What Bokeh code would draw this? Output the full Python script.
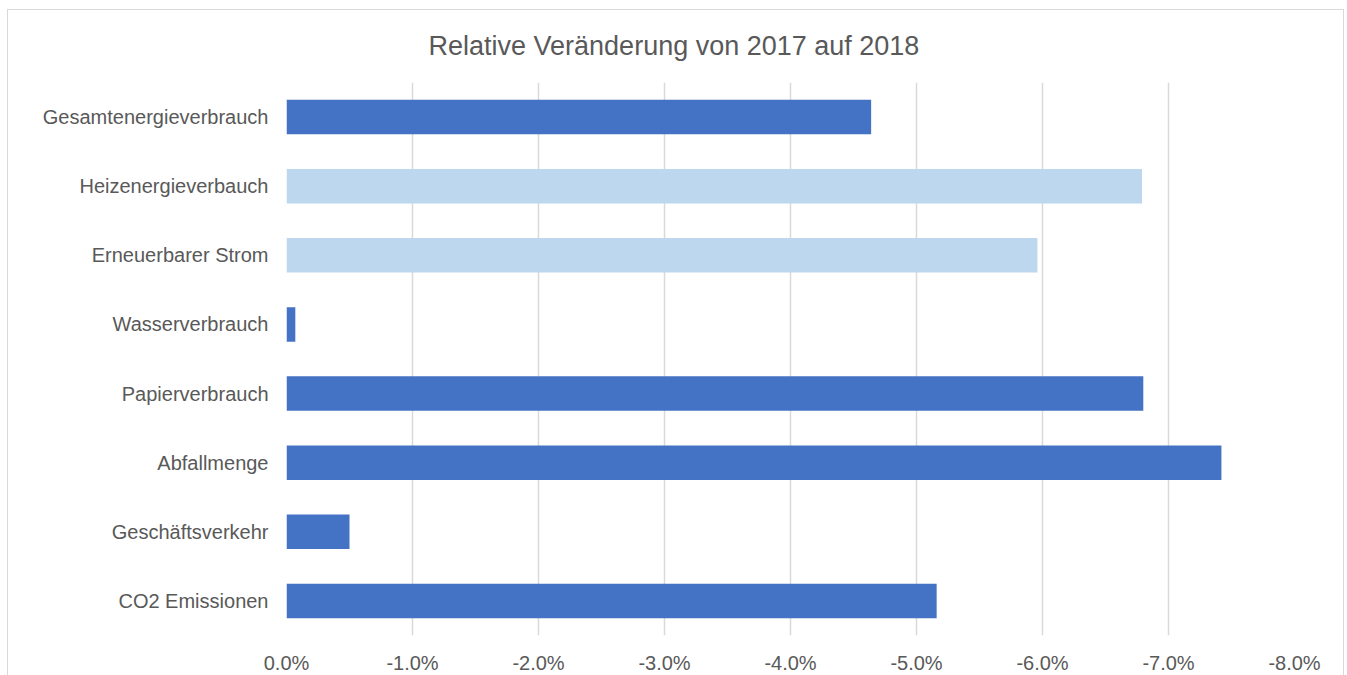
from bokeh.plotting import figure
from bokeh.models import FactorRange, Range1d, FixedTicker, NumeralTickFormatter, ColumnDataSource
from bokeh.embed import file_html
from bokeh.resources import INLINE

# ---- data ----
categories = [
    "Gesamtenergieverbrauch",
    "Heizenergieverbauch",
    "Erneuerbarer Strom",
    "Wasserverbrauch",
    "Papierverbrauch",
    "Abfallmenge",
    "Geschäftsverkehr",
    "CO2 Emissionen",
]
values = [-0.0464, -0.0679, -0.0596, -0.0007, -0.0680, -0.0742, -0.0050, -0.0516]
x_ticks = [0.0, -0.01, -0.02, -0.03, -0.04, -0.05, -0.06, -0.07, -0.08]
title_text = "Relative Veränderung von 2017 auf 2018"

DARK = "#4472C4"
LIGHT = "#BDD7EE"
light_set = {"Heizenergieverbauch", "Erneuerbarer Strom"}
bar_colors = [LIGHT if c in light_set else DARK for c in categories]

FONT = "Liberation Sans"
TXT = "#595959"
GRID = "#D9D9D9"

src = ColumnDataSource(dict(cat=categories, val=values, color=bar_colors))

p = figure(
    width=1337, height=666,
    y_range=FactorRange(factors=list(reversed(categories))),
    x_range=Range1d(0, -0.08),
    output_backend="svg", toolbar_location=None, tools="",
    min_border_left=278, min_border_right=51, min_border_top=72, min_border_bottom=41,
    margin=(9, 0, 0, 7),
    styles={"border": "1px solid #D9D9D9", "border-bottom": "none"},
)

p.hbar(y="cat", left=0, right="val", height=0.5, color="color", line_color=None, source=src)

p.title.text = title_text
p.title.text_font = FONT
p.title.text_font_size = "27px"
p.title.text_font_style = "normal"
p.title.text_color = TXT
p.title.align = "left"
p.title.offset = 142
p.title.standoff = 40
p.title.vertical_align = "top"

p.outline_line_color = None
p.background_fill_color = "white"
p.border_fill_color = "white"

# x axis
p.xaxis.ticker = FixedTicker(ticks=x_ticks)
p.xaxis.formatter = NumeralTickFormatter(format="0.0%")
p.xaxis.axis_line_color = None
p.xaxis.major_tick_line_color = None
p.xaxis.minor_tick_line_color = None
p.xaxis.major_label_text_font = FONT
p.xaxis.major_label_text_font_size = "20px"
p.xaxis.major_label_text_color = TXT
p.xaxis.major_label_standoff = 10

# y axis
p.yaxis.axis_line_color = None
p.yaxis.major_tick_line_color = None
p.yaxis.minor_tick_line_color = None
p.yaxis.major_label_text_font = FONT
p.yaxis.major_label_text_font_size = "20px"
p.yaxis.major_label_text_color = TXT
p.yaxis.major_label_standoff = 12

p.xgrid.ticker = FixedTicker(ticks=x_ticks)
p.xgrid.grid_line_color = GRID
p.xgrid.grid_line_width = 1.5
p.ygrid.grid_line_color = None

open("out.html", "w").write(file_html(p, INLINE))
